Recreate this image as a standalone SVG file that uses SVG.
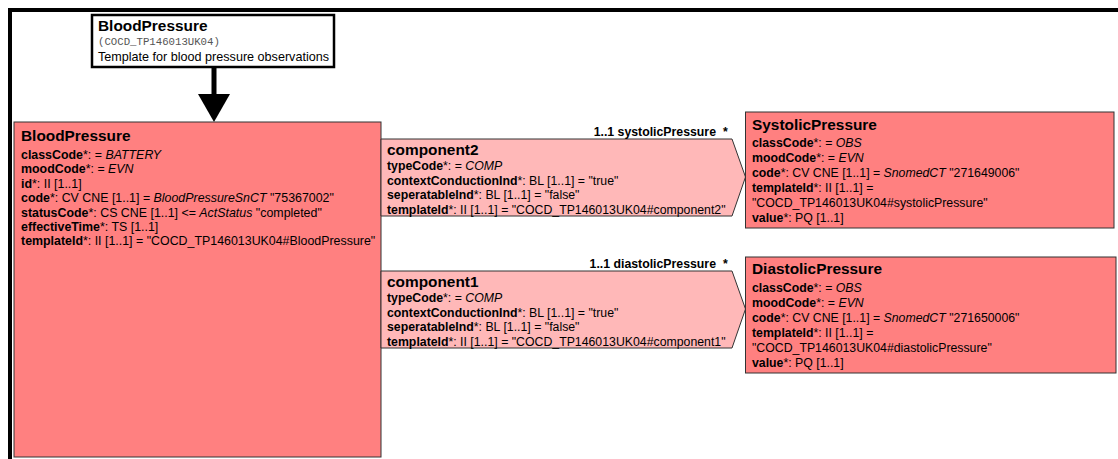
<svg xmlns="http://www.w3.org/2000/svg" width="1118" height="459" viewBox="0 0 1118 459">
<style>
text{font-family:"Liberation Sans",Arial,sans-serif;fill:#000}
.t{font-weight:bold;font-size:15.4px}
.a{font-size:12.3px}
.m{font-size:12.4px}
.b{font-weight:bold}
.i{font-style:italic}
.cls{fill:#FF8080;stroke:#333;stroke-width:1}
.rel{fill:#FFB8B8;stroke:#333;stroke-width:1}
.lbl{font-weight:bold;font-size:12.3px}
</style>
<rect x="0" y="0" width="1118" height="459" fill="#fff"/>
<g id="frame">
<rect x="8" y="8" width="1110" height="4" fill="#000"/>
<rect x="8" y="8" width="4" height="451" fill="#000"/>
</g>
<g id="title">
<rect x="92" y="15" width="242" height="52" fill="#fff" stroke="#000" stroke-width="2.5"/>
<text x="98" y="30.5" class="t">BloodPressure</text>
<text x="98" y="45" style="font-family:'Liberation Mono','Courier New',monospace;font-size:10.7px;fill:#555">(COCD_TP146013UK04)</text>
<text x="98" y="61" style="font-size:12.6px">Template for blood pressure observations</text>
</g>
<g id="connectors">
<rect x="211.5" y="67" width="5" height="28" fill="#000"/>
<polygon points="198,94 230,94 214,122" fill="#000"/>
</g>
<g id="BloodPressure">
<rect x="14" y="122" width="367" height="335" class="cls"/>
<text x="21" y="141" class="t">BloodPressure</text>
<text x="21" y="159" class="m"><tspan class="b">classCode</tspan>*: = <tspan class="i">BATTERY</tspan></text>
<text x="21" y="173.4" class="m"><tspan class="b">moodCode</tspan>*: = <tspan class="i">EVN</tspan></text>
<text x="21" y="187.8" class="m"><tspan class="b">id</tspan>*: II [1..1]</text>
<text x="21" y="202.2" class="m"><tspan class="b">code</tspan>*: CV CNE [1..1] = <tspan class="i">BloodPressureSnCT</tspan> "75367002"</text>
<text x="21" y="216.6" class="m"><tspan class="b">statusCode</tspan>*: CS CNE [1..1] &lt;= <tspan class="i">ActStatus</tspan> "completed"</text>
<text x="21" y="231" class="m"><tspan class="b">effectiveTime</tspan>*: TS [1..1]</text>
<text x="21" y="245.4" class="m"><tspan class="b">templateId</tspan>*: II [1..1] = "COCD_TP146013UK04#BloodPressure"</text>
</g>
<g id="component2">
<polygon points="381,139 732,139 745.5,177 732,216 381,216" class="rel"/>
<text x="716" y="136" class="lbl" text-anchor="end">1..1 systolicPressure</text>
<text x="723" y="136" class="lbl">*</text>
<text x="387" y="155" class="t">component2</text>
<text x="387" y="170" class="a"><tspan class="b">typeCode</tspan>*: = <tspan class="i">COMP</tspan></text>
<text x="387" y="184.7" class="a"><tspan class="b">contextConductionInd</tspan>*: BL [1..1] = "true"</text>
<text x="387" y="199.4" class="a"><tspan class="b">seperatableInd</tspan>*: BL [1..1] = "false"</text>
<text x="387" y="214" class="a"><tspan class="b">templateId</tspan>*: II [1..1] = "COCD_TP146013UK04#component2"</text>
</g>
<g id="component1">
<polygon points="381,271 732,271 745.5,309 732,348 381,348" class="rel"/>
<text x="716" y="267.5" class="lbl" text-anchor="end">1..1 diastolicPressure</text>
<text x="723" y="267.5" class="lbl">*</text>
<text x="387" y="287" class="t">component1</text>
<text x="387" y="302" class="a"><tspan class="b">typeCode</tspan>*: = <tspan class="i">COMP</tspan></text>
<text x="387" y="316.7" class="a"><tspan class="b">contextConductionInd</tspan>*: BL [1..1] = "true"</text>
<text x="387" y="331.4" class="a"><tspan class="b">seperatableInd</tspan>*: BL [1..1] = "false"</text>
<text x="387" y="346" class="a"><tspan class="b">templateId</tspan>*: II [1..1] = "COCD_TP146013UK04#component1"</text>
</g>
<g id="SystolicPressure">
<rect x="745.5" y="112" width="368.5" height="116" class="cls"/>
<text x="752" y="129.5" class="t">SystolicPressure</text>
<text x="752" y="147" class="a"><tspan class="b">classCode</tspan>*: = <tspan class="i">OBS</tspan></text>
<text x="752" y="161.9" class="a"><tspan class="b">moodCode</tspan>*: = <tspan class="i">EVN</tspan></text>
<text x="752" y="176.8" class="a"><tspan class="b">code</tspan>*: CV CNE [1..1] = <tspan class="i">SnomedCT</tspan> "271649006"</text>
<text x="752" y="191.7" class="a"><tspan class="b">templateId</tspan>*: II [1..1] =</text>
<text x="752" y="206.6" class="a">"COCD_TP146013UK04#systolicPressure"</text>
<text x="752" y="221.5" class="a"><tspan class="b">value</tspan>*: PQ [1..1]</text>
</g>
<g id="DiastolicPressure">
<rect x="745.5" y="257" width="370.5" height="116" class="cls"/>
<text x="752" y="274" class="t">DiastolicPressure</text>
<text x="752" y="292" class="a"><tspan class="b">classCode</tspan>*: = <tspan class="i">OBS</tspan></text>
<text x="752" y="306.9" class="a"><tspan class="b">moodCode</tspan>*: = <tspan class="i">EVN</tspan></text>
<text x="752" y="321.8" class="a"><tspan class="b">code</tspan>*: CV CNE [1..1] = <tspan class="i">SnomedCT</tspan> "271650006"</text>
<text x="752" y="336.7" class="a"><tspan class="b">templateId</tspan>*: II [1..1] =</text>
<text x="752" y="351.6" class="a">"COCD_TP146013UK04#diastolicPressure"</text>
<text x="752" y="366.5" class="a"><tspan class="b">value</tspan>*: PQ [1..1]</text>
</g>
</svg>
